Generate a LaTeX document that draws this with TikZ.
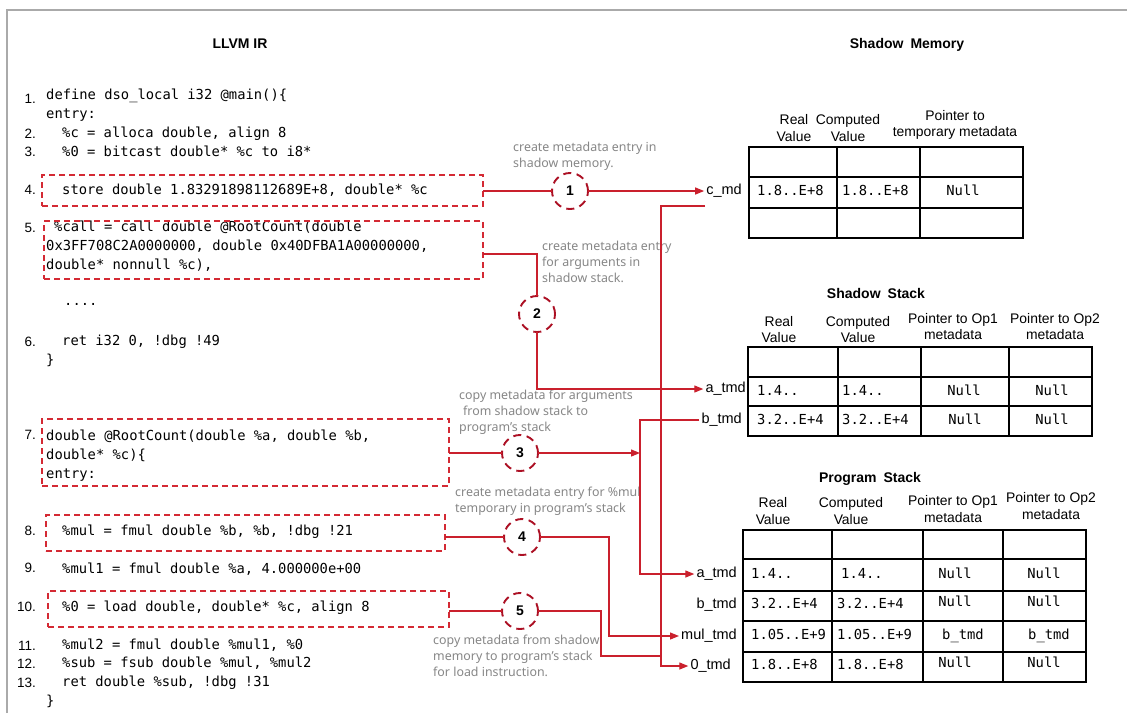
\documentclass[tikz,border=0pt]{standalone}
\usepackage{fontspec}
\setmainfont{Liberation Sans}
\newfontfamily\codefamily{DejaVu Sans Mono}
\newfontfamily\notefamily{Noto Sans}
\usetikzlibrary{arrows.meta}
\newcommand\codefs{\codefamily\fontsize{13.8}{19}\selectfont}
\newcommand\numfs{\fontsize{13.5}{16}\selectfont}
\newcommand\notefs{\notefamily\fontsize{12.4}{16}\selectfont}
\newcommand\lblfs{\fontsize{14.5}{16}\selectfont}
\newcommand\hdrfs{\fontsize{13.9}{16.5}\selectfont}
\newcommand\ttlfs{\bfseries\fontsize{14}{16}\selectfont}
\newcommand\circfs{\bfseries\fontsize{14}{16}\selectfont}
\definecolor{lnred}{RGB}{202,32,45}
\definecolor{circred}{RGB}{172,16,36}
\definecolor{boxred}{RGB}{212,42,52}
\definecolor{notegray}{RGB}{135,135,135}
\definecolor{framegray}{RGB}{170,170,170}
\begin{document}
\begin{tikzpicture}[x=1pt,y=-1pt,
  code/.style={font=\codefs, anchor=west, inner sep=0pt, text height=10pt, text depth=3pt},
  cellc/.style={font=\codefs, anchor=center, inner sep=0pt, text height=10pt, text depth=3pt},
  num/.style={font=\numfs, anchor=east, inner sep=0pt},
  note/.style={font=\notefs, text=notegray, anchor=west, inner sep=0pt, align=left},
  dbox/.style={draw=boxred, dash pattern=on 6pt off 4pt, line width=1.3pt, inner sep=0pt, outer sep=0pt},
  stepc/.style={circle, draw=circred, dash pattern=on 8pt off 5.5pt, line width=1.9pt, minimum size=36pt, inner sep=0pt, outer sep=0pt, font=\circfs},
  conn/.style={draw=lnred, line width=1.2pt},
  arr/.style={conn, -{Triangle[length=9pt,width=7pt]}},
  lbl/.style={font=\lblfs, anchor=east, inner sep=2pt},
  hdr/.style={font=\hdrfs, align=center, inner sep=0pt},
  ttl/.style={font=\ttlfs, inner sep=0pt},
  tbl/.style={draw=black, line width=1.4pt}]
\useasboundingbox (0,0) rectangle (1127,713);
\fill[white] (0,0) rectangle (1127,713);
\draw[draw=framegray, line width=1.5pt] (7,713) -- (7,10) -- (1127,10);

% titles
\node[ttl] (tllvm) at (240,44) {LLVM IR};
\node[ttl] (tsm) at (907,45) {Shadow\enspace Memory};
\node[ttl] (tss) at (876,293) {Shadow\enspace Stack};
\node[ttl] (tps) at (870,479) {Program\enspace Stack};

% line numbers
\node[num] (n1) at (36,99) {1.};
\node[num] (n2) at (36,134) {2.};
\node[num] (n3) at (36,152) {3.};
\node[num] (n4) at (36,190) {4.};
\node[num] (n5) at (36,228) {5.};
\node[num] (n6) at (36,342) {6.};
\node[num] (n7) at (36,435) {7.};
\node[num] (n8) at (36,531) {8.};
\node[num] (n9) at (36,568) {9.};
\node[num] (n10) at (36,607) {10.};
\node[num] (n11) at (36,646) {11.};
\node[num] (n12) at (36,664) {12.};
\node[num] (n13) at (36,683) {13.};

% code
\node[code] (l1) at (46,96) {define dso\_local i32 @main()\{};
\node[code] (l1b) at (46,115) {entry:};
\node[code] (l2) at (62,134) {\%c = alloca double, align 8};
\node[code] (l3) at (62,153) {\%0 = bitcast double* \%c to i8*};
\node[code] (l4) at (62,191) {store double 1.83291898112689E+8, double* \%c};
\node[code] (l5a) at (54,228) {\%call = call double @RootCount(double};
\node[code] (l5b) at (46,247) {0x3FF708C2A0000000, double 0x40DFBA1A00000000,};
\node[code] (l5c) at (46,266) {double* nonnull \%c),};
\node[code] (ldots) at (64,302) {....};
\node[code] (l6) at (62,342) {ret i32 0, !dbg !49};
\node[code] (l6b) at (46,361) {\}};
\node[code] (l7a) at (46,437) {double @RootCount(double \%a, double \%b,};
\node[code] (l7b) at (46,456) {double* \%c)\{};
\node[code] (l7c) at (46,475) {entry:};
\node[code] (l8) at (62,532) {\%mul = fmul double \%b, \%b, !dbg !21};
\node[code] (l9) at (62,570) {\%mul1 = fmul double \%a, 4.000000e+00};
\node[code] (l10) at (62,608) {\%0 = load double, double* \%c, align 8};
\node[code] (l11) at (62,646) {\%mul2 = fmul double \%mul1, \%0};
\node[code] (l12) at (62,664) {\%sub = fsub double \%mul, \%mul2};
\node[code] (l13) at (62,683) {ret double \%sub, !dbg !31};
\node[code] (l13b) at (46,702) {\}};

% dashed boxes
\node[dbox, minimum width=441pt, minimum height=31pt] (b4) at (262.5,190.5) {};
\node[dbox, minimum width=439pt, minimum height=58pt] (b5) at (263.5,250) {};
\node[dbox, minimum width=407pt, minimum height=67pt] (b7) at (245.5,452.5) {};
\node[dbox, minimum width=399pt, minimum height=36pt] (b8) at (245.5,533) {};
\node[dbox, minimum width=401pt, minimum height=36pt] (b10) at (248.5,609) {};

% step circles
\node[stepc] (c1) at (570,191) {1};
\node[stepc] (c2) at (537,314) {2};
\node[stepc] (c3) at (520,453) {3};
\node[stepc] (c4) at (522,537) {4};
\node[stepc] (c5) at (520,611) {5};

% notes
\node[note] (t1) at (513,156) {create metadata entry in\\shadow memory.};
\node[note] (t2) at (542,262) {create metadata entry\\for arguments in\\shadow stack.};
\node[note] (t3) at (459,412) {copy metadata for arguments\\\hspace{4pt}from shadow stack to\\program’s stack};
\node[note] (t4) at (455,501) {create metadata entry for \%mul\\temporary in program’s stack};
\node[note] (t5) at (433,656) {copy metadata from shadow\\memory to program’s stack\\for load instruction.};

% shadow memory table
\draw[tbl] (749,147) rectangle (1023,238);
\draw[tbl] (749,177) -- (1023,177) (749,208) -- (1023,208) (837,147) -- (837,238) (920,147) -- (920,238);
\node[hdr] (hsm1) at (794,128) {Real\\Value};
\node[hdr] (hsm2) at (848,128) {Computed\\Value};
\node[hdr] (hsm3) at (955,125) {Pointer to\\temporary metadata};
\node[code] (sm1) at (757,192) {1.8..E+8};
\node[code] (sm2) at (842,192) {1.8..E+8};
\node[cellc] (sm3) at (963,192) {Null};

% shadow stack table
\draw[tbl] (748,347) rectangle (1092,436);
\draw[tbl] (748,377) -- (1092,377) (748,406) -- (1092,406) (838,347) -- (838,436) (921,347) -- (921,436) (1009,347) -- (1009,436);
\node[hdr] (hss1) at (779,329.5) {Real\\Value};
\node[hdr] (hss2) at (858,329.5) {Computed\\Value};
\node[hdr] (hss3) at (953,326.5) {Pointer to Op1\\metadata};
\node[hdr] (hss4) at (1055,326.5) {Pointer to Op2\\metadata};
\node[code] (ssa1) at (757,392) {1.4..};
\node[code] (ssa2) at (842,392) {1.4..};
\node[cellc] (ssa3) at (964,392) {Null};
\node[cellc] (ssa4) at (1052,392) {Null};
\node[code] (ssb1) at (757,421) {3.2..E+4};
\node[code] (ssb2) at (842,421) {3.2..E+4};
\node[cellc] (ssb3) at (965,421) {Null};
\node[cellc] (ssb4) at (1052,421) {Null};

% program stack table
\draw[tbl] (743,530) rectangle (1086,682);
\draw[tbl] (743,559) -- (1086,559) (743,591) -- (1086,591) (743,621) -- (1086,621) (743,652) -- (1086,652)
  (832,530) -- (832,682) (923,530) -- (923,682) (1003,530) -- (1003,682);
\node[hdr] (hps1) at (773,511) {Real\\Value};
\node[hdr] (hps2) at (851,511) {Computed\\Value};
\node[hdr] (hps3) at (953,509) {Pointer to Op1\\metadata};
\node[hdr] (hps4) at (1051,506) {Pointer to Op2\\metadata};
\node[code] (psa1) at (751,575) {1.4..};
\node[code] (psa2) at (841,575) {1.4..};
\node[cellc] (psa3) at (955,575) {Null};
\node[cellc] (psa4) at (1044,575) {Null};
\node[code] (psb1) at (751,605) {3.2..E+4};
\node[code] (psb2) at (837,605) {3.2..E+4};
\node[cellc] (psb3) at (955,603) {Null};
\node[cellc] (psb4) at (1044,603) {Null};
\node[code] (psm1) at (751,636) {1.05..E+9};
\node[code] (psm2) at (837,636) {1.05..E+9};
\node[cellc] (psm3) at (963,636) {b\_tmd};
\node[cellc] (psm4) at (1049,636) {b\_tmd};
\node[code] (pso1) at (751,666) {1.8..E+8};
\node[code] (pso2) at (837,666) {1.8..E+8};
\node[cellc] (pso3) at (955,664) {Null};
\node[cellc] (pso4) at (1044,664) {Null};

% row labels
\node[lbl] (cmd) at (744,191) {c\_md};
\node[lbl] (atmdS) at (748,389) {a\_tmd};
\node[lbl] (btmdS) at (744,420) {b\_tmd};
\node[lbl] (atmdP) at (739,574) {a\_tmd};
\node[lbl] (btmdP) at (739,605) {b\_tmd};
\node[lbl] (multmd) at (739,636) {mul\_tmd};
\node[lbl] (otmd) at (733,666) {0\_tmd};

% junction coordinates
\coordinate (j3) at (640,453);
\coordinate (kb) at (640,420);
\coordinate (k4) at (609,580);
\coordinate (k5) at (601,640);
\coordinate (kv) at (661,656);
\coordinate (kc) at (705,206);
\coordinate (kd) at (661,206);

% connectors
\draw[conn] (b4.east |- c1.west) -- (c1.west);
\draw[arr] (c1.east) -- (cmd.west);
\draw[conn] ([yshift=-4pt]b5.east) -| (c2.north);
\draw[arr] (c2.south) |- (atmdS.west);
\draw[conn] (b7.east |- c3.west) -- (c3.west);
\draw[arr] (c3.east) -- (j3);
\draw[arr] (btmdS.west) -- (kb) |- (atmdP.west);
\draw[conn] (b8.east |- c4.west) -- (c4.west);
\draw[arr] (c4.east) -| (k4) |- (multmd.west);
\draw[conn] (b10.east |- c5.west) -- (c5.west);
\draw[conn] (c5.east) -| (k5) |- (kv);
\draw[arr] (kc) -- (kd) |- (otmd.west);
\end{tikzpicture}
\end{document}
